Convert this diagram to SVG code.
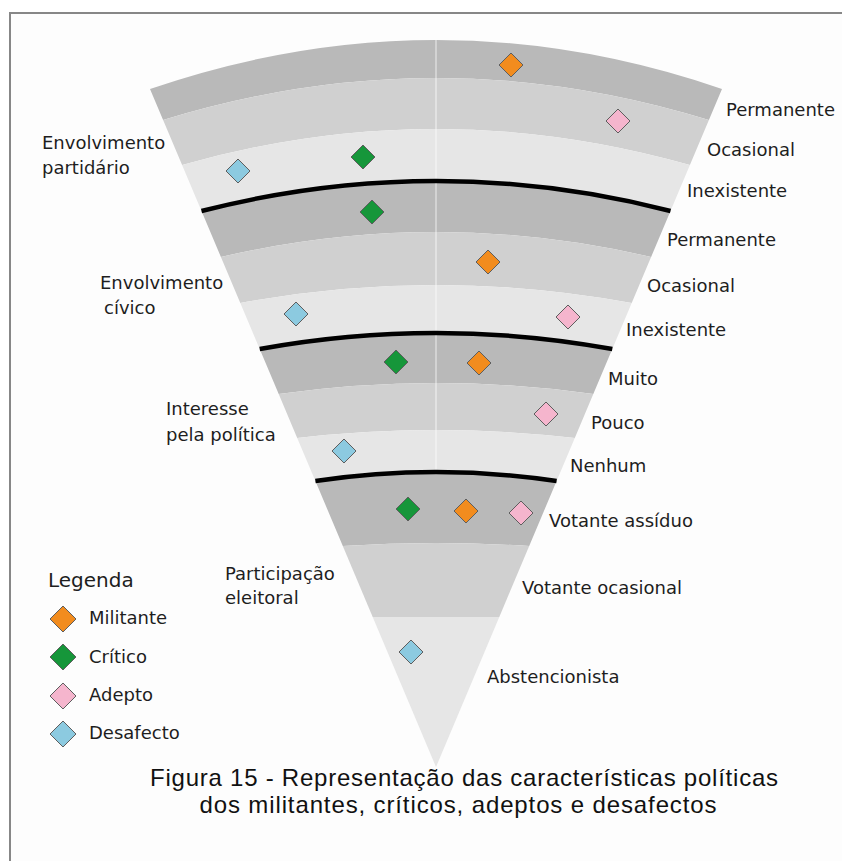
<svg xmlns="http://www.w3.org/2000/svg" xmlns:xlink="http://www.w3.org/1999/xlink" width="842" height="861" viewBox="0 0 842 861">
  <style>
    .dark { fill: #b9b9b9; }
    .mid { fill: #d0d0d0; }
    .light { fill: #e6e6e6; }
    .lbl { font-family: "DejaVu Sans", "Noto Sans", sans-serif; font-size: 18px; fill: #1e1e1e; }
    .leg { font-family: "DejaVu Sans", "Noto Sans", sans-serif; font-size: 20px; fill: #1e1e1e; }
    .cap { font-family: "Liberation Sans", Arial, sans-serif; font-size: 24px; fill: #111; text-anchor: middle; }
    .sep { fill: none; stroke: #000; stroke-width: 4.5; }
    .axis { fill: none; stroke: #ffffff; stroke-opacity: 0.5; stroke-width: 1.5; }
    .mil { fill: #f28c1e; }
    .cri { fill: #16963a; }
    .ade { fill: #f5b5cd; }
    .des { fill: #8ccae0; }
    .mk { stroke: #5e5e5e; stroke-width: 1; }
  </style>
  <defs>
    <path id="dia" d="M0,-12 L12,0 L0,12 L-12,0 Z"/>
    <path id="diaL" d="M0,-13 L13,0 L0,13 L-13,0 Z"/>
  </defs>

  <!-- page and frame -->
  <rect x="0" y="0" width="842" height="861" fill="#ffffff"/>
  <rect x="10" y="13" width="832" height="848" fill="#fdfdfd"/>
  <path d="M10,861 V13 H842" fill="none" stroke="#878787" stroke-width="2"/>

  <!-- fan bands, top to bottom -->
  <g id="partidario">
    <g id="part-permanente">
      <path class="dark" d="M150,89 Q436,-9 722,89 L708.9,120 Q436,36 163.1,120 Z"/>
      <text class="lbl" x="726" y="116">Permanente</text>
    </g>
    <g id="part-ocasional">
      <path class="mid" d="M163.1,120 Q436,36 708.9,120 L689.9,165 Q436,93 182.1,165 Z"/>
      <text class="lbl" x="707" y="156">Ocasional</text>
    </g>
    <g id="part-inexistente">
      <path class="light" d="M182.1,165 Q436,93 689.9,165 L670.5,211 Q436,151 201.5,211 Z"/>
      <text class="lbl" x="687" y="197">Inexistente</text>
    </g>
    <text class="lbl" x="42" y="149">Envolvimento</text>
    <text class="lbl" x="42" y="174">partidário</text>
  </g>

  <g id="civico">
    <g id="civ-permanente">
      <path class="dark" d="M201.5,211 Q436,151 670.5,211 L651.1,257 Q436,207 220.9,257 Z"/>
      <text class="lbl" x="667" y="246">Permanente</text>
    </g>
    <g id="civ-ocasional">
      <path class="mid" d="M220.9,257 Q436,207 651.1,257 L631.7,303 Q436,267 240.3,303 Z"/>
      <text class="lbl" x="647" y="292">Ocasional</text>
    </g>
    <g id="civ-inexistente">
      <path class="light" d="M240.3,303 Q436,267 631.7,303 L612.3,349 Q436,317 259.7,349 Z"/>
      <text class="lbl" x="626" y="336">Inexistente</text>
    </g>
    <text class="lbl" x="100" y="289">Envolvimento</text>
    <text class="lbl" x="104" y="314">cívico</text>
  </g>

  <g id="interesse">
    <g id="int-muito">
      <path class="dark" d="M259.7,349 Q436,317 612.3,349 L593.3,394 Q436,372 278.7,394 Z"/>
      <text class="lbl" x="608" y="385">Muito</text>
    </g>
    <g id="int-pouco">
      <path class="mid" d="M278.7,394 Q436,372 593.3,394 L574.8,438 Q436,422 297.2,438 Z"/>
      <text class="lbl" x="591" y="429">Pouco</text>
    </g>
    <g id="int-nenhum">
      <path class="light" d="M297.2,438 Q436,422 574.8,438 L556.6,481 Q436,463 315.4,481 Z"/>
      <text class="lbl" x="570" y="472">Nenhum</text>
    </g>
    <text class="lbl" x="166" y="415">Interesse</text>
    <text class="lbl" x="166" y="441">pela política</text>
  </g>

  <g id="participacao">
    <g id="par-assiduo">
      <path class="dark" d="M315.4,481 Q436,463 556.6,481 L529.2,546 Q436,540 342.8,546 Z"/>
      <text class="lbl" x="549" y="527">Votante assíduo</text>
    </g>
    <g id="par-ocasional">
      <path class="mid" d="M342.8,546 Q436,540 529.2,546 L499.3,617 L372.7,617 Z"/>
      <text class="lbl" x="522" y="594">Votante ocasional</text>
    </g>
    <g id="par-abstencionista">
      <path class="light" d="M372.7,617 L499.3,617 L436,767 Z"/>
      <text class="lbl" x="487" y="683">Abstencionista</text>
    </g>
    <text class="lbl" x="225" y="580">Participação</text>
    <text class="lbl" x="225" y="604">eleitoral</text>
  </g>

  <!-- centre axis and group separators -->
  <g id="connectors">
    <path class="axis" d="M436,40 V472"/>
    <path class="sep" d="M201.5,211 Q436,151 670.5,211"/>
    <path class="sep" d="M259.7,349 Q436,317 612.3,349"/>
    <path class="sep" d="M315.4,481 Q436,463 556.6,481"/>
  </g>

  <!-- profile markers -->
  <g id="markers" class="mk">
    <use xlink:href="#dia" x="511" y="65" class="mil"/>
    <use xlink:href="#dia" x="618" y="121" class="ade"/>
    <use xlink:href="#dia" x="363" y="157" class="cri"/>
    <use xlink:href="#dia" x="238" y="171" class="des"/>

    <use xlink:href="#dia" x="372" y="212" class="cri"/>
    <use xlink:href="#dia" x="488" y="262" class="mil"/>
    <use xlink:href="#dia" x="296" y="314" class="des"/>
    <use xlink:href="#dia" x="568" y="317" class="ade"/>

    <use xlink:href="#dia" x="396" y="362" class="cri"/>
    <use xlink:href="#dia" x="479" y="363" class="mil"/>
    <use xlink:href="#dia" x="546" y="414" class="ade"/>
    <use xlink:href="#dia" x="344" y="451" class="des"/>

    <use xlink:href="#dia" x="408" y="509" class="cri"/>
    <use xlink:href="#dia" x="466" y="511" class="mil"/>
    <use xlink:href="#dia" x="521" y="513" class="ade"/>
    <use xlink:href="#dia" x="411" y="652" class="des"/>
  </g>

  <!-- legend -->
  <g id="legend">
    <text class="leg" x="48" y="587">Legenda</text>
    <g class="mk">
      <use xlink:href="#diaL" x="63" y="619" class="mil"/>
      <use xlink:href="#diaL" x="63" y="657" class="cri"/>
      <use xlink:href="#diaL" x="63" y="696" class="ade"/>
      <use xlink:href="#diaL" x="63" y="734" class="des"/>
    </g>
    <text class="lbl" x="89" y="624">Militante</text>
    <text class="lbl" x="89" y="663">Crítico</text>
    <text class="lbl" x="89" y="701">Adepto</text>
    <text class="lbl" x="89" y="739">Desafecto</text>
  </g>

  <!-- caption -->
  <g id="caption">
    <text class="cap" x="464" y="786" textLength="628" lengthAdjust="spacing">Figura 15 - Representação das características políticas</text>
    <text class="cap" x="458" y="813" textLength="517" lengthAdjust="spacing">dos militantes, críticos, adeptos e desafectos</text>
  </g>
</svg>
